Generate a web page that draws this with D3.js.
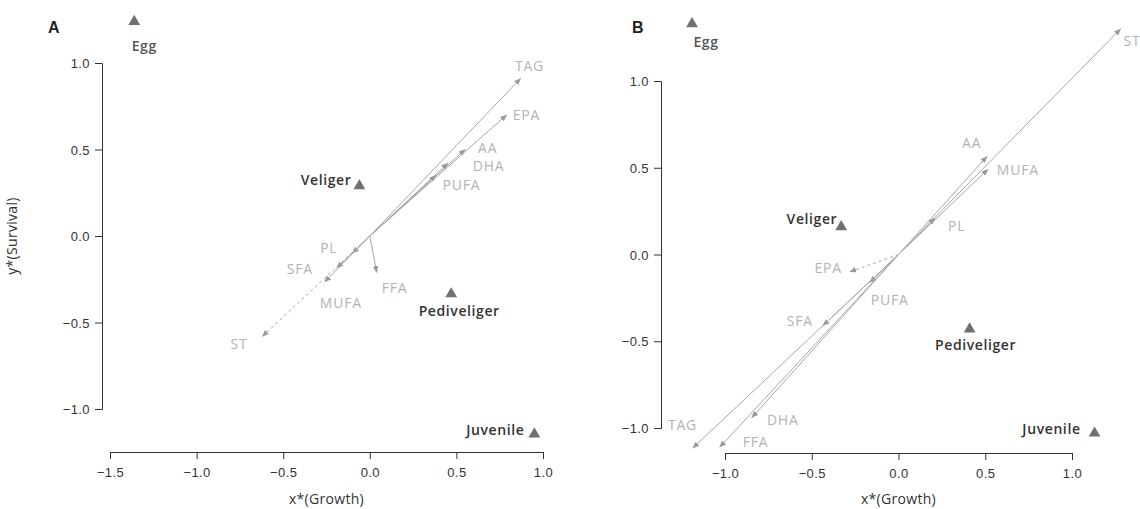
<!DOCTYPE html>
<html>
<head>
<meta charset="utf-8">
<script src="https://cdn.jsdelivr.net/npm/d3@7"></script>
<style>
  body { margin: 0; background: #fff; }
  svg { font-family: "Open Sans", "Noto Sans", sans-serif; }
  .axis path, .axis line { stroke: #333; stroke-width: 1; }
  .axis text { font-size: 13px; fill: #333; letter-spacing: 0.4px; }
</style>
</head>
<body>
<svg id="chart" width="1140" height="509"></svg>
<script>
// life stages (triangles)
const stages = ["Egg", "Veliger", "Pediveliger", "Juvenile"];
const stageXA = [-1.36, -0.06, 0.47, 0.95];
const stageYA = [1.24, 0.29, -0.335, -1.145];
const stageXB = [-1.19, -0.33, 0.41, 1.13];
const stageYB = [1.33, 0.16, -0.43, -1.03];

// lipid loadings (arrows)
const lipidsA = ["TAG", "EPA", "AA", "DHA", "PUFA", "PL", "SFA", "MUFA", "FFA", "ST"];
const lipidXA = [0.87, 0.79, 0.55, 0.45, 0.38, -0.10, -0.19, -0.26, 0.04, -0.62];
const lipidYA = [0.91, 0.70, 0.50, 0.42, 0.35, -0.10, -0.185, -0.265, -0.21, -0.58];

const lipidsB = ["ST", "AA", "MUFA", "PL", "EPA", "PUFA", "SFA", "DHA", "FFA", "TAG"];
const lipidXB = [1.28, 0.51, 0.515, 0.21, -0.28, -0.165, -0.435, -0.845, -1.03, -1.185];
const lipidYB = [1.30, 0.565, 0.49, 0.21, -0.10, -0.16, -0.41, -0.94, -1.11, -1.115];

const xTicksA = [-1.5, -1.0, -0.5, 0.0, 0.5, 1.0];
const xTicksB = [-1.0, -0.5, 0.0, 0.5, 1.0];
const yTicks = [-1.0, -0.5, 0.0, 0.5, 1.0];

// label placement: [dx, dy, anchor]
const lipidLabelA = {
  TAG: [9, -8, "middle"], EPA: [6, 5, "start"], AA: [13, 3, "start"],
  DHA: [25, 8, "start"], PUFA: [7, 15, "start"], PL: [-15, 0, "end"],
  SFA: [-24, 6, "end"], MUFA: [-5, 26, "start"], FFA: [5, 21, "start"],
  ST: [-15, 13, "end"]
};
const lipidLabelB = {
  ST: [3, 17, "start"], AA: [-25, -8, "start"], MUFA: [9, 6, "start"],
  PL: [13, 13, "start"], EPA: [-8, 1, "end"], PUFA: [1, 23, "start"],
  SFA: [-10, 0, "end"], DHA: [15, 7, "start"], FFA: [23, 0, "start"],
  TAG: [-25, -18, "start"]
};
const stageLabelA = {
  Egg: [10, 30, "middle"], Veliger: [-8, -1, "end"],
  Pediveliger: [8, 22, "middle"], Juvenile: [-10, 1, "end"]
};
const stageLabelB = {
  Egg: [14, 23, "middle"], Veliger: [-4, -3, "end"],
  Pediveliger: [6, 21, "middle"], Juvenile: [-14, 1, "end"]
};

const svg = d3.select("#chart");
const fmt = d3.format(".1f");

svg.append("defs").append("marker")
  .attr("id", "arrow")
  .attr("viewBox", "0 0 10 10")
  .attr("refX", 9).attr("refY", 5)
  .attr("markerWidth", 7).attr("markerHeight", 7)
  .attr("markerUnits", "userSpaceOnUse")
  .attr("orient", "auto")
  .append("path")
  .attr("d", "M0,1 L10,5 L0,9 Z")
  .attr("fill", "#999");

function drawPanel(p) {
  const g = svg.append("g");
  const x = d3.scaleLinear().domain(p.xDomain).range(p.xRange);
  const y = d3.scaleLinear().domain([-1, 1]).range(p.yRange);

  g.append("g").attr("class", "axis")
    .attr("transform", `translate(0,${p.xAxisY})`)
    .call(d3.axisBottom(x).tickValues(p.xTicks).tickFormat(fmt).tickSizeOuter(0).tickSize(7))
    .call(a => a.selectAll("text").attr("y", 12).attr("dy", "1em"));

  g.append("g").attr("class", "axis")
    .attr("transform", `translate(${p.yAxisX},0)`)
    .call(d3.axisLeft(y).tickValues(yTicks).tickFormat(fmt).tickSizeOuter(0).tickSize(7))
    .call(a => a.selectAll("text").attr("dy", "0.35em").attr("x", -12));

  g.append("text")
    .attr("x", (p.xRange[0] + p.xRange[1]) / 2)
    .attr("y", 504)
    .attr("text-anchor", "middle")
    .attr("font-size", 14).attr("letter-spacing", 0.3).attr("fill", "#333")
    .text("x*(Growth)");

  if (p.yTitle) {
    g.append("text")
      .attr("transform", `translate(17,${y(0)}) rotate(-90)`)
      .attr("text-anchor", "middle")
      .attr("font-size", 14).attr("letter-spacing", 0.3).attr("fill", "#333")
      .text("y*(Survival)");
  }

  g.append("text")
    .attr("x", p.letterX).attr("y", 33)
    .attr("font-size", 16).attr("font-weight", 700).attr("fill", "#222")
    .attr("font-family", "Liberation Sans, Arial, sans-serif")
    .text(p.letter);

  // arrows
  const lip = p.lipids.map((n, i) => ({ name: n, x: p.lx[i], y: p.ly[i] }));
  g.selectAll(".arr").data(lip).enter().append("line")
    .attr("x1", x(0)).attr("y1", y(0))
    .attr("x2", d => x(d.x)).attr("y2", d => y(d.y))
    .attr("stroke", "#a8a8a8").attr("stroke-width", 1)
    .attr("stroke-dasharray", d => p.dashed.includes(d.name) ? "3,3" : null)
    .attr("marker-end", "url(#arrow)");

  g.selectAll(".lab").data(lip).enter().append("text")
    .attr("x", d => x(d.x) + p.lipidLabel[d.name][0])
    .attr("y", d => y(d.y) + p.lipidLabel[d.name][1])
    .attr("text-anchor", d => p.lipidLabel[d.name][2])
    .attr("font-size", 14).attr("letter-spacing", 0.8).attr("fill", "#b3b3b3")
    .text(d => d.name);

  // stages
  const st = stages.map((n, i) => ({ name: n, x: p.sx[i], y: p.sy[i] }));
  g.selectAll(".tri").data(st).enter().append("path")
    .attr("d", d3.symbol(d3.symbolTriangle, 60))
    .attr("transform", d => `translate(${x(d.x)},${y(d.y)})`)
    .attr("fill", "#707070");

  g.selectAll(".slab").data(st).enter().append("text")
    .attr("x", d => x(d.x) + p.stageLabel[d.name][0])
    .attr("y", d => y(d.y) + p.stageLabel[d.name][1])
    .attr("text-anchor", d => p.stageLabel[d.name][2])
    .attr("font-size", 14).attr("font-weight", 600)
    .attr("letter-spacing", 0.6)
    .attr("fill", d => d.name === "Egg" ? "#555" : "#333")
    .text(d => d.name);
}

drawPanel({
  letter: "A", letterX: 48, yTitle: true,
  xDomain: [-1.5, 1.0], xRange: [110, 543], yRange: [409, 63],
  xAxisY: 452, yAxisX: 102, xTicks: xTicksA,
  lipids: lipidsA, lx: lipidXA, ly: lipidYA, dashed: ["ST"],
  sx: stageXA, sy: stageYA,
  lipidLabel: lipidLabelA, stageLabel: stageLabelA
});

drawPanel({
  letter: "B", letterX: 632, yTitle: false,
  xDomain: [-1.0, 1.0], xRange: [725, 1072], yRange: [428, 81],
  xAxisY: 453, yAxisX: 661, xTicks: xTicksB,
  lipids: lipidsB, lx: lipidXB, ly: lipidYB, dashed: ["EPA"],
  sx: stageXB, sy: stageYB,
  lipidLabel: lipidLabelB, stageLabel: stageLabelB
});
</script>
</body>
</html>
